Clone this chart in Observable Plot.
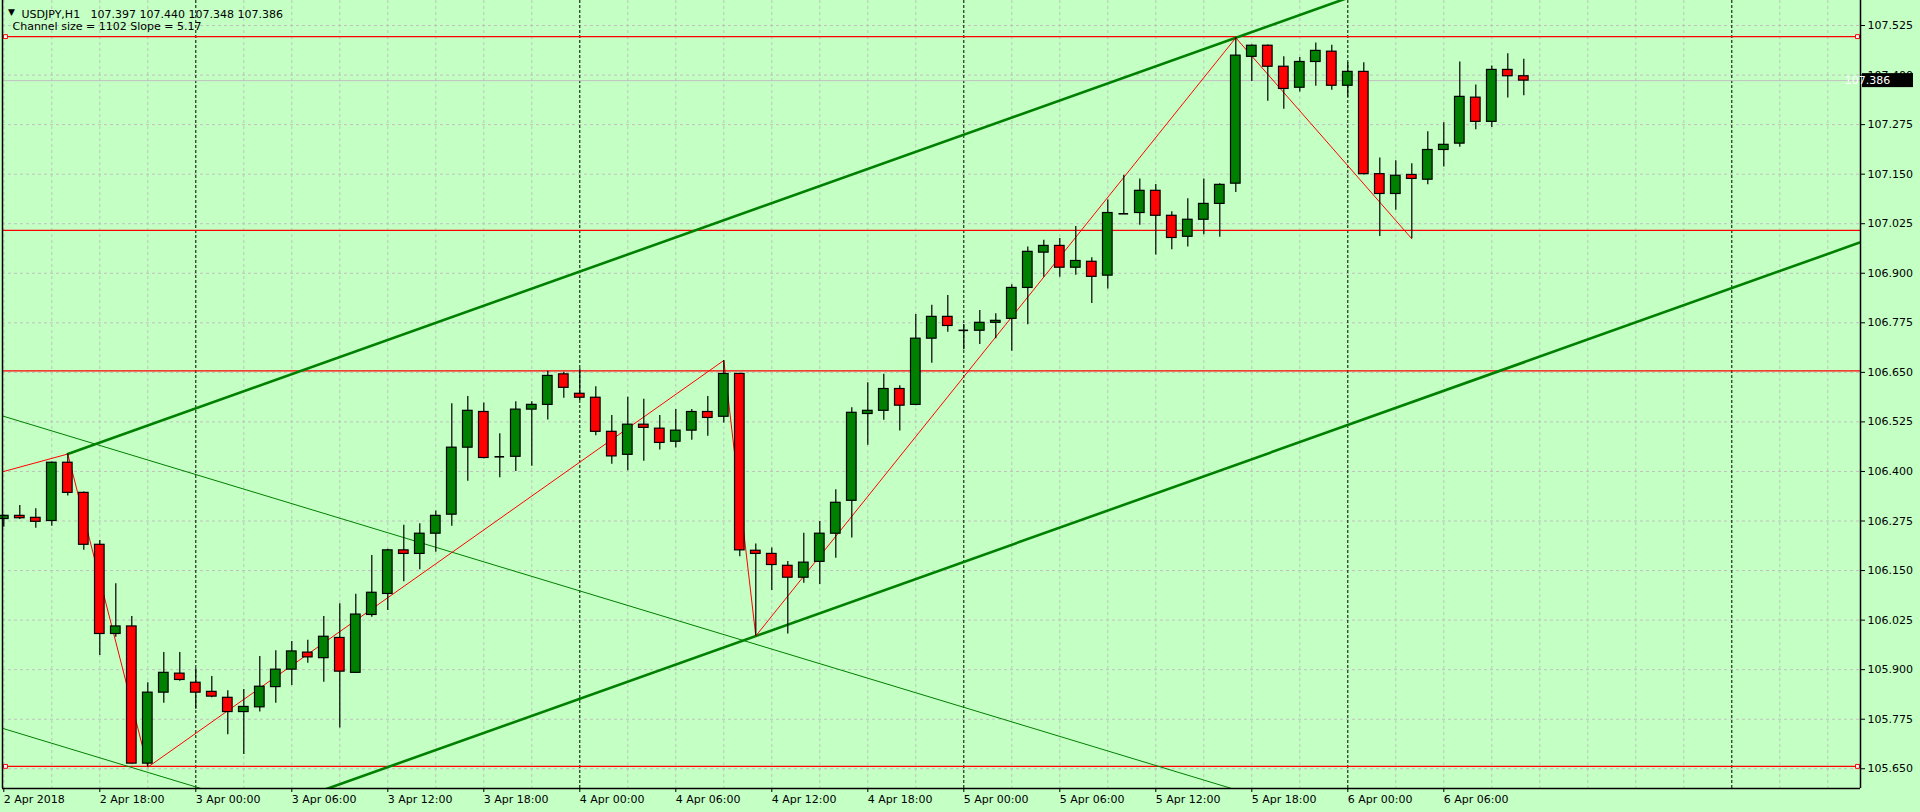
<!DOCTYPE html>
<html><head><meta charset="utf-8">
<script src="https://cdn.jsdelivr.net/npm/d3@7"></script>
<script src="https://cdn.jsdelivr.net/npm/@observablehq/plot@0.6"></script>
<style>
html,body{margin:0;padding:0;background:#c4ffc4;overflow:hidden;}
#chart{width:1920px;height:812px;}
</style></head><body><div id="chart"></div>
<script>
// ---------- DATA ----------
const symbolName = "USDJPY,H1";
const infoText = "Channel size = 1102 Slope = 5.17";

// hourly bars, index 0 = 2 Apr 2018 12:00
const opens = [106.280,106.288,106.283,106.275,106.422,106.346,106.215,105.990,106.009,105.663,
105.842,105.890,105.867,105.844,105.829,105.793,105.805,105.856,105.900,105.943,
105.929,105.980,105.892,106.038,106.091,106.201,106.192,106.243,106.291,106.460,
106.550,106.437,106.437,106.556,106.568,106.645,106.596,106.586,106.500,106.442,
106.518,106.508,106.475,106.503,106.550,106.538,106.646,106.200,106.192,106.162,
106.132,106.172,106.243,106.326,106.545,106.553,106.608,106.568,106.735,106.790,
106.756,106.755,106.775,106.785,106.863,106.952,106.969,106.914,106.929,106.894,
107.050,107.052,107.108,107.045,106.992,107.035,107.075,107.126,107.446,107.474,
107.421,107.368,107.433,107.459,107.373,107.408,107.150,107.100,107.148,107.136,
107.211,107.227,107.343,107.282,107.413,107.397];
const highs = [106.290,106.314,106.306,106.424,106.444,106.348,106.226,106.117,106.034,105.867,
105.943,105.943,105.902,105.883,105.847,105.850,105.933,105.948,105.971,105.974,
106.034,106.066,106.090,106.188,106.204,106.264,106.268,106.300,106.571,106.589,
106.573,106.495,106.576,106.576,106.653,106.650,106.659,106.614,106.541,106.587,
106.582,106.541,106.556,106.556,106.589,106.680,106.648,106.217,106.207,106.173,
106.244,106.274,106.354,106.561,106.624,106.645,106.616,106.796,106.819,106.844,
106.771,106.806,106.798,106.871,106.966,106.983,106.988,107.018,106.939,107.085,
107.147,107.138,107.124,107.055,107.088,107.138,107.126,107.494,107.476,107.476,
107.446,107.444,107.481,107.475,107.431,107.431,107.191,107.184,107.176,107.257,
107.280,107.433,107.375,107.423,107.454,107.440];
const lows = [106.259,106.279,106.257,106.262,106.338,106.201,105.936,105.982,105.662,105.654,
105.815,105.871,105.800,105.829,105.736,105.686,105.793,105.815,105.860,105.916,
105.868,105.753,105.890,106.032,106.049,106.122,106.152,106.196,106.262,106.375,
106.432,106.384,106.400,106.413,106.530,106.585,106.579,106.490,106.418,106.402,
106.426,106.454,106.459,106.479,106.489,106.522,106.185,105.985,106.100,105.990,
106.118,106.115,106.181,106.232,106.466,106.529,106.502,106.566,106.673,106.751,
106.707,106.720,106.735,106.703,106.770,106.890,106.890,106.895,106.824,106.860,
107.048,107.021,106.946,106.959,106.966,106.997,106.991,107.104,107.384,107.334,
107.314,107.357,107.372,107.362,107.344,107.148,106.993,107.059,106.987,107.123,
107.168,107.218,107.262,107.268,107.342,107.348];
const closes = [106.288,106.282,106.273,106.422,106.346,106.215,105.990,106.009,105.663,105.842,
105.892,105.874,105.842,105.832,105.793,105.806,105.857,105.900,105.946,105.931,
105.983,105.895,106.039,106.094,106.201,106.192,106.243,106.288,106.460,106.553,
106.434,106.437,106.556,106.568,106.641,106.611,106.586,106.500,106.438,106.518,
106.510,106.472,106.503,106.550,106.535,106.646,106.201,106.192,106.164,106.132,
106.170,106.243,106.321,106.548,106.553,106.608,106.566,106.735,106.790,106.767,
106.756,106.775,106.780,106.863,106.954,106.969,106.914,106.931,106.891,107.052,
107.050,107.108,107.045,106.989,107.035,107.075,107.123,107.449,107.474,107.421,
107.365,107.433,107.461,107.373,107.408,107.150,107.100,107.146,107.138,107.211,
107.224,107.345,107.282,107.413,107.397,107.386];

// time axis labels (bar index -> label)
const xTickIndex = [0,6,12,18,24,30,36,42,48,54,60,66,72,78,84,90];
const xTickLabels = ["2 Apr 2018","2 Apr 18:00","3 Apr 00:00","3 Apr 06:00","3 Apr 12:00","3 Apr 18:00",
"4 Apr 00:00","4 Apr 06:00","4 Apr 12:00","4 Apr 18:00","5 Apr 00:00","5 Apr 06:00","5 Apr 12:00",
"5 Apr 18:00","6 Apr 00:00","6 Apr 06:00"];
const daySeparatorIndex = [12,36,60,84,108];

// price axis ticks
const yTicks = [105.650,105.775,105.900,106.025,106.150,106.275,106.400,106.525,106.650,106.775,
106.900,107.025,107.150,107.275,107.400,107.525];

// horizontal levels
const redLevels = [107.497,107.008,106.654,105.656];
const markedLevels = [107.497,105.656];

// zigzag
const zigIndex = [-1,4,9,45,47,77,88];
const zigValue = [106.389,106.444,105.654,106.680,105.985,107.494,106.987];

// ascending equidistant channel (two anchors on upper line, one on lower)
const chanIndex = [4,77];
const chanUpper = [106.444,107.494];
const chanLowerIndex = 47;
const chanLowerValue = 105.985;

// descending thin channel
const descIndex = [0,60];
const descUpper = [106.539,105.805];
const descLowerAt0 = 105.751;

// ---------- BUILD ----------
const GREEN = "#008000", RED = "#ff0000", BG = "#c4ffc4", GRID = "#c0c0c0";
const bars = opens.map((o,i)=>({k:i,o,h:highs[i],l:lows[i],c:closes[i]}));
const bull = bars.filter(d=>d.c>d.o), bear = bars.filter(d=>d.c<d.o), doji = bars.filter(d=>d.c===d.o);
const last = bars[bars.length-1];
const fmt = d3.format(".3f");
const labelMap = new Map(xTickIndex.map((k,i)=>[k,xTickLabels[i]]));
const zig = zigIndex.map((k,i)=>({k,v:zigValue[i]}));

function extend(k0, v0, slope, kA, kB){ return [{k:kA, v:v0+(kA-k0)*slope},{k:kB, v:v0+(kB-k0)*slope}]; }
const chanSlope = (chanUpper[1]-chanUpper[0])/(chanIndex[1]-chanIndex[0]);
const upperLine = extend(chanIndex[0], chanUpper[0], chanSlope, chanIndex[0], 140);
const lowerLine = extend(chanLowerIndex, chanLowerValue, chanSlope, chanIndex[0], 140);
const descSlope = (descUpper[1]-descUpper[0])/(descIndex[1]-descIndex[0]);
const descA = extend(descIndex[0], descUpper[0], descSlope, -2, 140);
const descB = extend(descIndex[0], descLowerAt0, descSlope, -2, 140);

const gridIdx = d3.range(0, 117, 3).filter(k=>!daySeparatorIndex.includes(k));
const xDomain = [-0.08125, 116.04375];
const yDomain = [105.6002, 107.5881];
const HW = 0.3;

function priceTag(index, scales, values, dimensions){
  const ns = "http://www.w3.org/2000/svg";
  const g = document.createElementNS(ns,"g");
  const yy = scales.y(last.c);
  const x0 = dimensions.width - dimensions.marginRight + 2;
  const r = document.createElementNS(ns,"rect");
  r.setAttribute("x", x0); r.setAttribute("y", yy-7); r.setAttribute("width", 51); r.setAttribute("height", 14);
  r.setAttribute("fill","black");
  const t = document.createElementNS(ns,"text");
  t.setAttribute("x", x0+5.5); t.setAttribute("y", yy); t.setAttribute("dy","0.35em");
  t.setAttribute("fill","white"); t.textContent = fmt(last.c);
  g.appendChild(r); g.appendChild(t);
  return g;
}

const header = `${symbolName}\u00a0\u00a0\u00a0${fmt(last.o)} ${fmt(last.h)} ${fmt(last.l)} ${fmt(last.c)}`;

const chart = Plot.plot({
  width:1920, height:812,
  marginLeft:2, marginRight:60, marginTop:0, marginBottom:24,
  style:{background:BG, color:"black", fontFamily:"DejaVu Sans", fontSize:"11px", overflow:"visible"},
  x:{type:"linear", domain:xDomain, axis:null},
  y:{type:"linear", domain:yDomain, axis:null},
  marks:[
    Plot.gridY(yTicks, {stroke:GRID, strokeOpacity:1, strokeDasharray:"3,3"}),
    Plot.gridX(gridIdx, {stroke:GRID, strokeOpacity:1, strokeDasharray:"3,3"}),
    Plot.ruleX(daySeparatorIndex, {stroke:"black", strokeDasharray:"3,2"}),
    Plot.ruleY([last.c], {stroke:GRID}),
    Plot.ruleY(redLevels, {stroke:RED, strokeWidth:1.2}),
    Plot.line(descA, {x:"k", y:"v", stroke:GREEN, strokeWidth:1, clip:true}),
    Plot.line(descB, {x:"k", y:"v", stroke:GREEN, strokeWidth:1, clip:true}),
    Plot.line(upperLine, {x:"k", y:"v", stroke:GREEN, strokeWidth:2.6, clip:true}),
    Plot.line(lowerLine, {x:"k", y:"v", stroke:GREEN, strokeWidth:2.6, clip:true}),
    Plot.line(zig, {x:"k", y:"v", stroke:RED, strokeWidth:1, clip:true}),
    Plot.ruleX(bars, {x:"k", y1:"l", y2:"h", stroke:"black", strokeWidth:1.2}),
    Plot.rect(bull, {x1:d=>d.k-HW, x2:d=>d.k+HW, y1:"o", y2:"c", fill:GREEN, stroke:"black", strokeWidth:1.2}),
    Plot.rect(bear, {x1:d=>d.k-HW, x2:d=>d.k+HW, y1:"o", y2:"c", fill:RED, stroke:"black", strokeWidth:1.2}),
    Plot.ruleY(doji, {y:"c", x1:d=>d.k-HW, x2:d=>d.k+HW, stroke:"black", strokeWidth:1.6}),
    Plot.dot(markedLevels, {y:d=>d, frameAnchor:"left", dx:3, symbol:"square", r:2.2, fill:"white", stroke:RED, strokeWidth:1}),
    Plot.dot(markedLevels, {y:d=>d, frameAnchor:"right", dx:-3, symbol:"square", r:2.2, fill:"white", stroke:RED, strokeWidth:1}),
    Plot.ruleX(xDomain, {stroke:"black", strokeWidth:1.5}),
    Plot.ruleY([yDomain[0]], {stroke:"black", strokeWidth:1.5}),
    Plot.axisY(yTicks, {anchor:"right", tickSize:4, tickPadding:3, tickFormat:fmt, label:null, fontSize:11}),
    Plot.axisX(xTickIndex, {anchor:"bottom", tickSize:4, tickPadding:3, tickFormat:d=>labelMap.get(d), textAnchor:"start", label:null, fontSize:11}),
    Plot.text(["\u25BC"], {frameAnchor:"top-left", text:d=>d, dx:9, dy:12, fontSize:9, textAnchor:"middle", lineAnchor:"middle", fill:"black"}),
    Plot.text([header], {frameAnchor:"top-left", text:d=>d, dx:19, dy:13.5, textAnchor:"start", lineAnchor:"middle", fill:"black"}),
    Plot.text([infoText], {frameAnchor:"top-left", text:d=>d, dx:10, dy:25.5, textAnchor:"start", lineAnchor:"middle", fill:"black"}),
    priceTag
  ]
});
document.getElementById("chart").appendChild(chart);
</script>
</body></html>
